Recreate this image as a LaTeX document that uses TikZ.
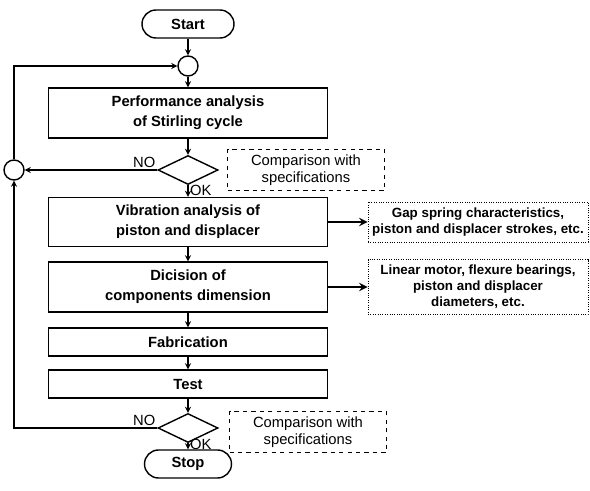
\documentclass[tikz,border=0pt]{standalone}
\usepackage{fontspec}
\setmainfont{Liberation Sans}
\usetikzlibrary{shapes.geometric, positioning, arrows}
\tikzset{
    >=stealth, % makes the arrow heads bold
    process/.style={draw, line width=1pt, minimum width=6.975cm, align=center, font=\fontsize{10.5}{14}\selectfont\bfseries}, % the main steps
    terminal/.style={draw, line width=1pt, rounded corners=0.35cm, minimum width=2.3cm, minimum height=0.7cm, font=\fontsize{10.5}{14}\selectfont\bfseries}, % start and stop
    joint/.style={draw, line width=1pt, circle, minimum size=0.5cm, inner sep=0pt}, % small merge circles
    decision/.style={draw, line width=1pt, diamond, minimum width=1.5cm, minimum height=0.725cm, inner sep=0pt},
    remark/.style={draw, dashed, line width=0.7pt, align=center, minimum width=3.925cm, minimum height=1.025cm, font=\fontsize{10.5}{12}\selectfont}, % comparison notes
    result/.style={draw, densely dotted, line width=0.7pt, align=center, minimum width=5.5cm, inner sep=1pt, font=\fontsize{9.5}{11.5}\selectfont\bfseries}, % outputs of a step
    flow/.style={->, line width=0.9pt},
    tag/.style={font=\fontsize{10.5}{12}\selectfont, inner sep=1pt},
}

\begin{document}
\begin{tikzpicture}
    \useasboundingbox (0,0) rectangle (14.75,-12.275);
    \node[terminal] (start) at (4.7,-0.6) {Start};
    \node[joint, node distance=1.05cm, below of=start] (merge) {};
    \node[process, minimum height=1.25cm, node distance=1.175cm, below of=merge] (perf) {Performance analysis\\of Stirling cycle};
    \node[decision, node distance=1.425cm, below of=perf] (check1) {};
    \node[joint, node distance=4.35cm, left of=check1] (back) {};
    \node[remark, node distance=2.95cm, right of=check1] (spec1) {Comparison with\\specifications};
    \node[process, minimum height=1.225cm, node distance=1.3cm, below of=check1] (vib) {Vibration analysis of\\piston and displacer};
    \node[result, minimum height=1cm, node distance=7.25cm, right of=vib] (gap) {Gap spring characteristics,\\piston and displacer strokes, etc.};
    \node[process, minimum height=1.25cm, node distance=1.625cm, below of=vib] (dim) {Dicision of\\components dimension};
    \node[result, minimum height=1.375cm, node distance=7.25cm, right of=dim] (motor) {Linear motor, flexure bearings,\\piston and displacer\\diameters, etc.};
    \node[process, minimum height=0.7cm, node distance=1.375cm, below of=dim] (fab) {Fabrication};
    \node[process, minimum height=0.7cm, node distance=1.05cm, below of=fab] (test) {Test};
    \node[decision, node distance=1.1cm, below of=test] (check2) {};
    \node[remark, node distance=3cm, right of=check2, yshift=-0.1cm] (spec2) {Comparison with\\specifications};
    \node[terminal, minimum width=2.175cm, node distance=0.9cm, below of=check2] (stop) {Stop};

    \draw[flow] (start) -- (merge);
    \draw[flow] (merge) -- (perf);
    \draw[flow] (perf) -- (check1);
    \draw[flow] (check1.west) -- node[tag, at start, above left]{NO} (back.east);
    \draw[flow] (check1.south) -- node[tag, at start, right, yshift=-3.5pt]{OK} (vib.north);
    \draw[flow] (back.north) |- (merge.west);
    \draw[->, line width=1.6pt] (vib) -- (gap);
    \draw[flow] (vib) -- (dim);
    \draw[->, line width=1.6pt] (dim) -- (motor);
    \draw[flow] (dim) -- (fab);
    \draw[flow] (fab) -- (test);
    \draw[flow] (test) -- (check2);
    \draw[flow] (check2.west) node[tag, above left]{NO} -| (back.south);
    \draw[flow] (check2.south) -- node[tag, at start, right, yshift=-1pt]{OK} (stop.north);
\end{tikzpicture}
\end{document}
